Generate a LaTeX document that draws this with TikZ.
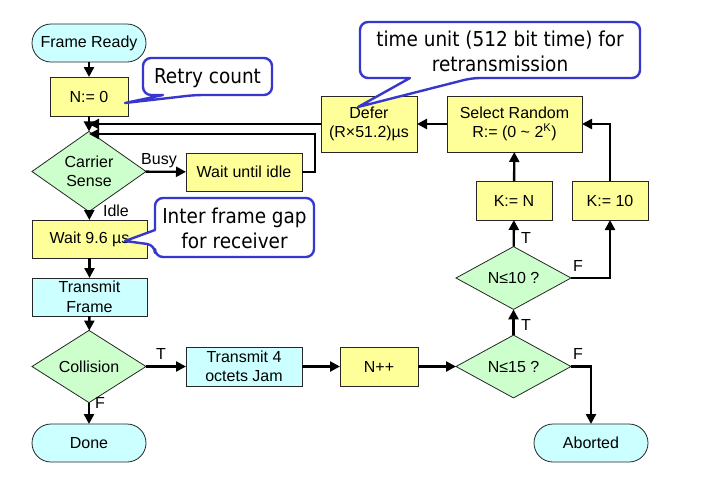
\documentclass[tikz,border=0pt]{standalone}
\usepackage{fontspec}
\setmainfont{Liberation Sans}
\newfontfamily\callfont{DejaVu Sans Condensed}
\usetikzlibrary{shapes.geometric,arrows.meta}
\definecolor{yfill}{HTML}{FFFF99}
\definecolor{cfill}{HTML}{CCFFFF}
\definecolor{gfill}{HTML}{CCFFCC}
\definecolor{cblue}{RGB}{55,55,205}
\tikzset{
  base/.style={draw=black!85, line width=0.8pt, align=center, inner sep=1pt, outer sep=0pt,
    font=\fontsize{16}{19.5}\selectfont},
  ybox/.style={base, fill=yfill, rectangle},
  cbox/.style={base, fill=cfill, rectangle},
  term/.style={base, fill=cfill, rectangle, rounded corners=19pt, minimum width=114pt, minimum height=38pt},
  dec/.style={base, fill=gfill, diamond, minimum width=114pt, minimum height=57pt, inner sep=0pt},
  conn/.style={line width=2.4pt, -{Triangle[length=10pt,width=10pt]}},
  lbl/.style={font=\fontsize{16}{19}\selectfont, inner sep=0pt},
  callout/.style={draw=cblue, line width=2.4pt, fill=white, line join=round},
  ctext/.style={align=center, inner sep=0pt, font=\callfont\fontsize{20.5}{25}\selectfont}
}
\begin{document}
\begin{tikzpicture}[x=1pt,y=-1pt]
\useasboundingbox[fill=white] (0,0) rectangle (703,491);
% nodes
\node[term] (fr) at (89,43) {Frame Ready};
\node[ybox, minimum width=78pt, minimum height=39pt] (n0) at (89,96.5) {N:= 0};
\node[dec] (cs) at (89,171.5) {Carrier\\Sense};
\node[ybox, minimum width=116pt, minimum height=38pt] (wi) at (244,172) {Wait until idle};
\node[ybox, minimum width=115pt, minimum height=38pt] (w96) at (89.5,239) {Wait 9.6 µs};
\node[cbox, minimum width=115pt, minimum height=38pt] (tf) at (89.5,297) {Transmit\\Frame};
\node[dec] (co) at (89,366.5) {Collision};
\node[cbox, minimum width=116pt, minimum height=39pt] (jam) at (244,366.5) {Transmit 4\\octets Jam};
\node[term] (done) at (89,443) {Done};
\node[ybox, minimum width=78pt, minimum height=39pt] (npp) at (379,366.5) {N++};
\node[dec, minimum width=115pt] (n15) at (513.5,366.5) {N≤15 ?};
\node[dec, minimum width=115pt, minimum height=56pt] (n10) at (513.5,278) {N≤10 ?};
\node[ybox, minimum width=76pt, minimum height=39pt] (kn) at (514,200.5) {K:= N};
\node[ybox, minimum width=76pt, minimum height=39pt] (k10) at (610,200.5) {K:= 10};
\node[ybox, minimum width=135pt, minimum height=56pt] (sr) at (514.5,124) {Select Random\\R:= (0 \textasciitilde{} 2\textsuperscript{K})};
\node[ybox, minimum width=96pt, minimum height=56pt] (df) at (369,124) {Defer\\(R×51.2)µs};
\node[term] (ab) at (591,443) {Aborted};
\coordinate (m1) at (89,124);
\coordinate (m2) at (89,134);
% connectors
\draw[conn] (fr) -- (n0);
\draw[conn] (n0) -- (cs);
\draw[conn] (df.west) -- (m1);
\draw[conn] (wi.east) -- ++(13,0) |- (m2);
\draw[conn] (cs) -- (wi);
\draw[conn] (cs) -- (w96);
\draw[conn] (w96) -- (tf);
\draw[conn] (tf) -- (co);
\draw[conn] (co) -- (jam);
\draw[conn] (co) -- (done);
\draw[conn] (jam) -- (npp);
\draw[conn] (npp) -- (n15);
\draw[conn] (n15) -- (n10);
\draw[conn] (n15.east) -| (ab.north);
\draw[conn] (n10) -- (kn);
\draw[conn] (n10.east) -| (k10.south);
\draw[conn] (kn) -- (sr);
\draw[conn] (k10.north) |- (sr.east);
\draw[conn] (sr) -- (df);
% labels
\node[lbl] (lbusy) at (159,161) {Busy};
\node[lbl] (lidle) at (116,211) {Idle};
\node[lbl] (lt1) at (161,354) {T};
\node[lbl] (lf1) at (100,403) {F};
\node[lbl] (lt2) at (526,325) {T};
\node[lbl] (lf2) at (578,354) {F};
\node[lbl] (lt3) at (526,238) {T};
\node[lbl] (lf3) at (578,266) {F};
% callouts
\draw[callout] (207,58) [rounded corners=8pt] -- (272,58) -- (272,95) -- (195,95) [sharp corners] -- (125,103) -- (163,95) [rounded corners=8pt] -- (143,95) -- (143,58) -- cycle;
\node[ctext] (crc) at (207.5,78.5) {Retry count};
\draw[callout] (234,198) [rounded corners=8pt] -- (314,198) -- (314,257) -- (155,257) -- (155,245) [sharp corners] -- (125,241) -- (155,230) [rounded corners=8pt] -- (155,198) -- cycle;
\node[ctext] (cif) at (234.5,228.5) {Inter frame gap\\for receiver};
\draw[callout] (500,22) [rounded corners=8pt] -- (640,22) -- (640,78) -- (472,78) [sharp corners] -- (358,107) -- (410,78) [rounded corners=8pt] -- (360,78) -- (360,22) -- cycle;
\node[ctext] (ctu) at (500,51) {time unit (512 bit time) for\\retransmission};
\end{tikzpicture}
\end{document}
